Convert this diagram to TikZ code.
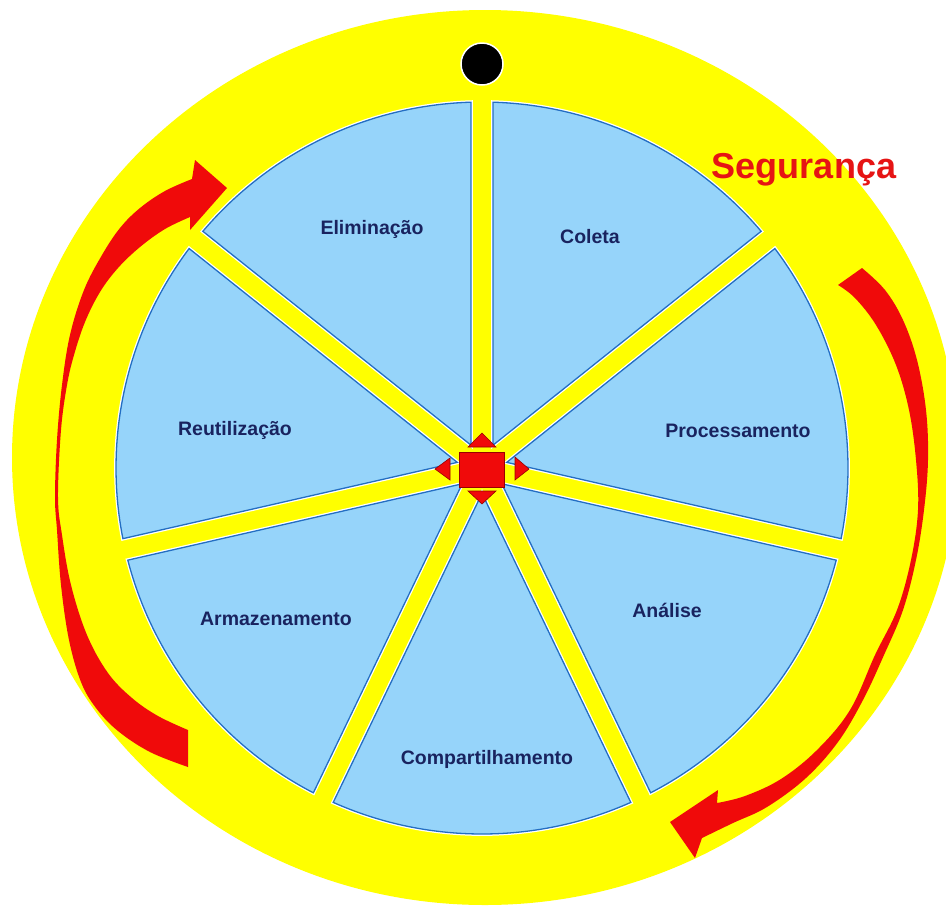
\documentclass[tikz,border=0pt]{standalone}
\usepackage{fontspec}
\setmainfont{Liberation Sans}
\definecolor{ringyellow}{RGB}{255,255,0}
\definecolor{wedgefill}{RGB}{150,212,250}
\definecolor{wedgeline}{RGB}{35,110,195}
\definecolor{labelnavy}{RGB}{25,35,95}
\definecolor{arrowred}{RGB}{240,10,10}
\definecolor{segred}{RGB}{230,20,20}
\tikzset{
  wedgeshape/.style={fill=wedgefill, draw=wedgeline, line width=1.3pt, line join=miter,
    preaction={draw=white, line width=3.8pt}},
  lbl/.style={font=\bfseries\fontsize{19.5}{22}\selectfont, text=labelnavy, anchor=base, inner sep=0pt},
  seglbl/.style={font=\bfseries\fontsize{36}{40}\selectfont, text=segred, anchor=base, inner sep=0pt},
  bigarrow/.style={fill=arrowred},
  hubpart/.style={fill=arrowred, draw=red!60!black, line width=0.6pt, line join=miter}
}
\begin{document}
\begin{tikzpicture}[x=1pt,y=-1pt]
\useasboundingbox (0,0) rectangle (946,914);
\fill[white] (0,0) rectangle (946,914);
% yellow disc
\fill[ringyellow] (485,457.5) ellipse [x radius=473, y radius=447.5];

% wedges
\begin{scope}[shift={(482,468)}]
\foreach \i in {0,...,6} {
  \pgfmathsetmacro\aA{-90+\i*360/7+1.727}
  \pgfmathsetmacro\aB{-90+(\i+1)*360/7-1.727}
  \pgfmathsetmacro\aM{-90+\i*360/7+180/7}
  \path[wedgeshape] (\aM:25.35) -- (\aA:366) arc[start angle=\aA, end angle=\aB, radius=366] -- cycle;
}
\end{scope}

% labels
\node[lbl] (coleta) at (590,243) {Coleta};
\node[lbl] (proc) at (738,437) {Processamento};
\node[lbl] (anal) at (667,617) {Análise};
\node[lbl] (comp) at (487,764) {Compartilhamento};
\node[lbl] (armz) at (276,625) {Armazenamento};
\node[lbl] (reut) at (235,435) {Reutilização};
\node[lbl] (elim) at (372,234) {Eliminação};
\node[seglbl] (seg) at (804,178) {Segurança};

% black dot
\fill[black, draw=white, line width=1.5pt] (482,64) circle [radius=21];

% hub
\path[hubpart] (459,452) rectangle (504,487);
\path[hubpart] (468,447) -- (496,447) -- (482,433) -- cycle;
\path[hubpart] (468,491) -- (496,491) -- (482,504) -- cycle;
\path[hubpart] (450,458) -- (450,480) -- (435,469) -- cycle;
\path[hubpart] (515,457) -- (515,480) -- (529,469) -- cycle;

% right arrow
\fill[bigarrow] plot[smooth, tension=0.6] coordinates {(862,268) (885,290) (903,320) (917,360) (926,410) (928,460) (924,510) (916,560) (903,610) (884,655) (863,700) (838,742) (806,778) (767,807) (733,823) (702,838)}
  -- (695,858) -- (670,822) -- (718,790) -- (717,803)
  -- plot[smooth, tension=0.6] coordinates {(717,803) (745,796) (781,779) (817,750) (850,710) (875,655) (897,610) (911,560) (918,510) (916,460) (909,410) (896,365) (876,325) (855,298) (838,285)}
  -- cycle;

% left arrow
\fill[bigarrow] plot[smooth, tension=0.6] coordinates {(188,767) (150,752) (118,731) (96,708) (81,682) (69,640) (61,585) (57,530) (55,497) (57,440) (62,385) (70,335) (84,290) (102,255) (120,228) (140,208) (165,191) (192,179)}
  -- (195,160) -- (227,188) -- (190,230) -- (190,217)
  -- plot[smooth, tension=0.6] coordinates {(190,217) (165,229) (140,247) (118,268) (100,292) (85,322) (74,355) (67,385) (61,430) (58,497) (62,535) (71,585) (87,635) (108,673) (132,698) (158,716) (188,730)}
  -- cycle;
\end{tikzpicture}
\end{document}
